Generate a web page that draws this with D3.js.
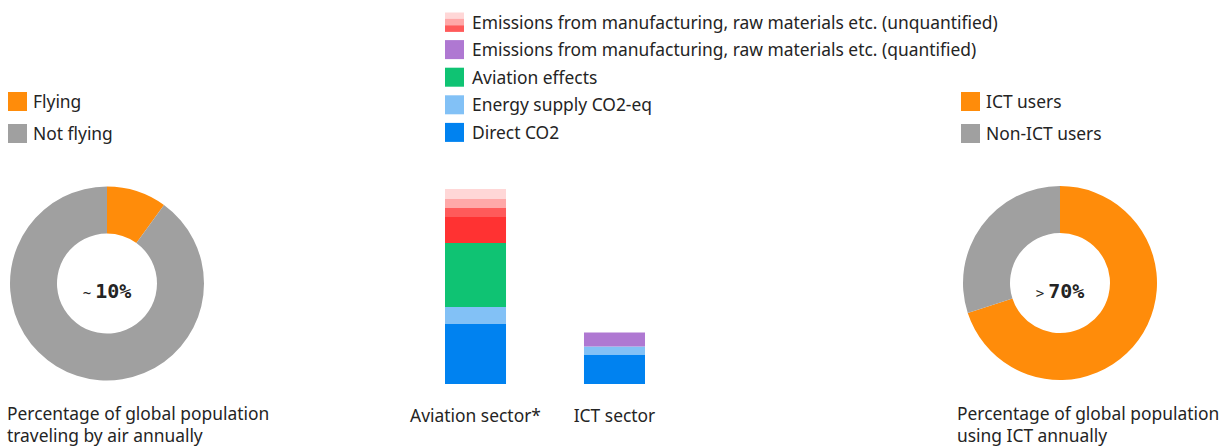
<!DOCTYPE html>
<html>
<head>
<meta charset="utf-8">
<script src="https://cdn.jsdelivr.net/npm/d3@7"></script>
<style>
  html, body { margin: 0; padding: 0; background: #fff; }
  svg { display: block; }
  text { font-family: "Noto Sans", "Open Sans", sans-serif; fill: #242424; }
</style>
</head>
<body>
<svg id="chart" width="1222" height="446"></svg>
<script>
// ---------- DATA ----------
const flyingLabels = ["Flying", "Not flying"];
const flyingValues = [10, 90];
const flyingCenter = ["~", "10%"];
const flyingCaption = ["Percentage of global population", "traveling by air annually"];

const ictLabels = ["ICT users", "Non-ICT users"];
const ictValues = [70, 30];
const ictCenter = [">", "70%"];
const ictCaption = ["Percentage of global population", "using ICT annually"];

const sectors = ["Aviation sector*", "ICT sector"];
const seriesKeys = ["direct", "energy", "effects", "quantified", "unq1", "unq2", "unq3", "unq4"];
const directCO2      = [60, 29.5];
const energySupply   = [17, 8];
const aviationEffects= [64, 0];
const manufQuantified= [0, 14];
const manufUnq1      = [26, 0];
const manufUnq2      = [9, 0];
const manufUnq3      = [9, 0];
const manufUnq4      = [10, 0];

const barLegendLabels = [
  "Emissions from manufacturing, raw materials etc. (unquantified)",
  "Emissions from manufacturing, raw materials etc. (quantified)",
  "Aviation effects",
  "Energy supply CO2-eq",
  "Direct CO2"
];

// ---------- STYLE ----------
const pieColors = ["#FF8C0A", "#A0A0A0"];
const seriesColors = {
  direct: "#0082F0", energy: "#82C1F6", effects: "#0FC373", quantified: "#AF78D2",
  unq1: "#FF3232", unq2: "#FF5A5A", unq3: "#FFA8A8", unq4: "#FFD7D7"
};
const FS = "17.4px";

const svg = d3.select("#chart");

// ---------- DONUTS ----------
function donut(cx, cy, values, labels, center, caption, legendX, captionX) {
  const pie = d3.pie().sort(null).value(d => d)(values);
  const arc = d3.arc().innerRadius(50).outerRadius(97);
  const g = svg.append("g").attr("transform", `translate(${cx},${cy})`);
  g.selectAll("path").data(pie).join("path")
    .attr("d", arc).attr("fill", (d, i) => pieColors[i]);
  const t = g.append("text").attr("text-anchor", "middle").attr("y", 14.5);
  t.append("tspan").text(center[0])
    .style("font-family", "'DejaVu Sans Mono', monospace").style("font-size", "14px");
  t.append("tspan").text(center[1]).attr("dx", 4)
    .style("font-family", "'DejaVu Sans Mono', monospace").style("font-size", "20px").style("font-weight", "bold");

  const lg = svg.append("g").attr("transform", `translate(${legendX},92)`);
  labels.forEach((l, i) => {
    lg.append("rect").attr("x", 0).attr("y", i * 32).attr("width", 19).attr("height", 19).attr("fill", pieColors[i]);
    lg.append("text").attr("x", 25).attr("y", i * 32 + 16).style("font-size", FS).text(l);
  });
  caption.forEach((c, i) => {
    svg.append("text").attr("x", captionX).attr("y", 420 + i * 22).style("font-size", FS).text(c);
  });
}
donut(107, 283.5, flyingValues, flyingLabels, flyingCenter, flyingCaption, 8, 7);
donut(1060, 283, ictValues, ictLabels, ictCenter, ictCaption, 961, 957);

// ---------- STACKED BARS ----------
const rows = sectors.map((s, i) => ({
  sector: s,
  direct: directCO2[i], energy: energySupply[i], effects: aviationEffects[i],
  quantified: manufQuantified[i], unq1: manufUnq1[i], unq2: manufUnq2[i],
  unq3: manufUnq3[i], unq4: manufUnq4[i]
}));
const stacked = d3.stack().keys(seriesKeys)(rows);
const x = d3.scaleBand().domain(sectors).range([445, 645]).paddingInner(0.561).paddingOuter(0);
const y = d3.scaleLinear().domain([0, 200]).range([384, 184]);

svg.append("g").selectAll("g").data(stacked).join("g")
  .attr("fill", d => seriesColors[d.key])
  .selectAll("rect").data(d => d).join("rect")
  .attr("x", d => x(d.data.sector))
  .attr("width", x.bandwidth())
  .attr("y", d => y(d[1]))
  .attr("height", d => y(d[0]) - y(d[1]));

const xAxis = svg.append("g").attr("transform", "translate(0,384)")
  .call(d3.axisBottom(x).tickSize(0).tickPadding(0));
xAxis.select(".domain").remove();
xAxis.selectAll("text").attr("y", 38).attr("dy", 0)
  .style("font-family", "'Noto Sans', sans-serif").style("font-size", FS).style("fill", "#242424");

// ---------- BAR LEGEND ----------
const bl = svg.append("g").attr("transform", "translate(445,12.5)");
barLegendLabels.forEach((l, i) => {
  const yy = i * 27.6;
  if (i === 0) {
    ["unq4", "unq3", "unq2"].forEach((k, j) => {
      bl.append("rect").attr("x", 0).attr("y", yy + j * 6.4).attr("width", 19).attr("height", 6.6).attr("fill", seriesColors[k]);
    });
  } else {
    const key = ["quantified", "effects", "energy", "direct"][i - 1];
    bl.append("rect").attr("x", 0).attr("y", yy).attr("width", 19).attr("height", 19).attr("fill", seriesColors[key]);
  }
  bl.append("text").attr("x", 27).attr("y", yy + 16).style("font-size", FS).text(l);
});
</script>
</body>
</html>
